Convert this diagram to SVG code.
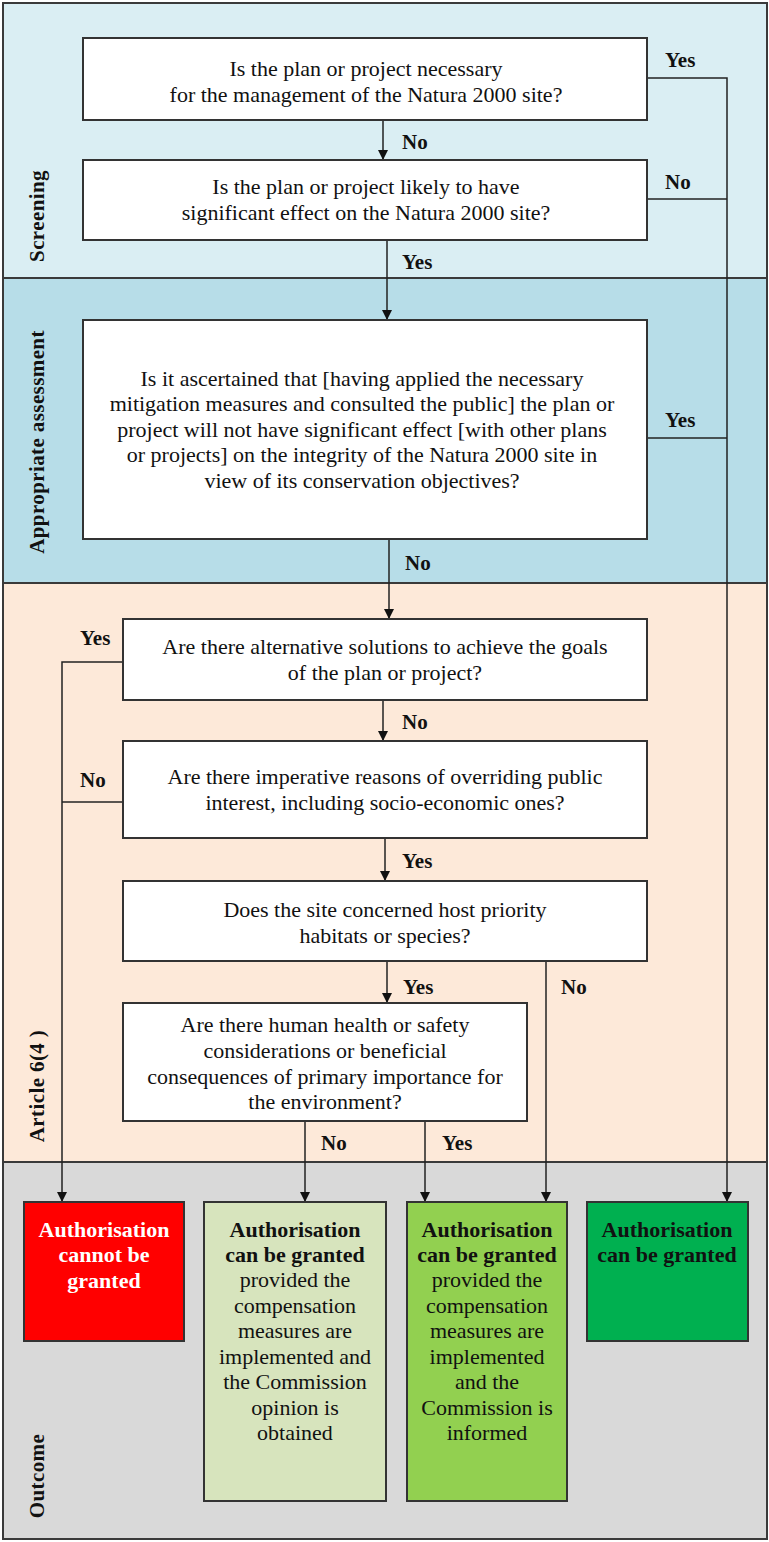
<svg xmlns="http://www.w3.org/2000/svg" width="769" height="1542" viewBox="0 0 769 1542">
<style>
.band{stroke:#3a3a3a;stroke-width:2}
.box{fill:#fff;stroke:#333;stroke-width:2}
.q{font-family:"Liberation Serif","Times New Roman",serif;font-size:22px;fill:#111;text-anchor:middle}
.lbl{font-family:"Liberation Serif","Times New Roman",serif;font-size:21px;font-weight:bold;fill:#111}
.side{font-family:"Liberation Serif","Times New Roman",serif;font-size:21px;font-weight:bold;fill:#111;text-anchor:middle;letter-spacing:0.4px}
.out{font-family:"Liberation Serif","Times New Roman",serif;font-size:22px;fill:#111;text-anchor:middle}
.b{font-weight:bold}
.conn{fill:none;stroke:#222;stroke-width:1.5}
</style>
<defs>
<marker id="arr" viewBox="0 0 10 10" refX="10" refY="5" markerWidth="10" markerHeight="10" markerUnits="userSpaceOnUse" orient="auto">
<path d="M0,0 L10,5 L0,10 Z" fill="#111"/>
</marker>
</defs>

<g id="bands">
<rect class="band" x="3" y="3" width="764" height="275" fill="#DAEEF3"/>
<rect class="band" x="3" y="278" width="764" height="305" fill="#B7DDE8"/>
<rect class="band" x="3" y="583" width="764" height="579" fill="#FDE9D9"/>
<rect class="band" x="3" y="1162" width="764" height="377" fill="#D9D9D9"/>
<text class="side" transform="translate(44,216) rotate(-90)">Screening</text>
<text class="side" transform="translate(44,442) rotate(-90)">Appropriate assessment</text>
<text class="side" transform="translate(44,1086) rotate(-90)">Article 6(4 )</text>
<text class="side" transform="translate(44,1476) rotate(-90)">Outcome</text>
</g>

<g id="connectors">
<path class="conn" d="M383,120 V160" marker-end="url(#arr)"/>
<path class="conn" d="M647,78 H727 V1202" marker-end="url(#arr)"/>
<path class="conn" d="M647,199 H727"/>
<path class="conn" d="M387,240 V320" marker-end="url(#arr)"/>
<path class="conn" d="M647,438 H727"/>
<path class="conn" d="M389,539 V619" marker-end="url(#arr)"/>
<path class="conn" d="M123,662 H62 V1202" marker-end="url(#arr)"/>
<path class="conn" d="M383,700 V741" marker-end="url(#arr)"/>
<path class="conn" d="M123,802 H62"/>
<path class="conn" d="M385,838 V881" marker-end="url(#arr)"/>
<path class="conn" d="M387,961 V1003" marker-end="url(#arr)"/>
<path class="conn" d="M546,961 V1202" marker-end="url(#arr)"/>
<path class="conn" d="M305,1121 V1202" marker-end="url(#arr)"/>
<path class="conn" d="M425,1121 V1202" marker-end="url(#arr)"/>
<text class="lbl" x="665" y="67">Yes</text>
<text class="lbl" x="402" y="149">No</text>
<text class="lbl" x="665" y="189">No</text>
<text class="lbl" x="402" y="269">Yes</text>
<text class="lbl" x="665" y="427">Yes</text>
<text class="lbl" x="405" y="570">No</text>
<text class="lbl" x="80" y="645">Yes</text>
<text class="lbl" x="402" y="729">No</text>
<text class="lbl" x="80" y="787">No</text>
<text class="lbl" x="402" y="868">Yes</text>
<text class="lbl" x="403" y="994">Yes</text>
<text class="lbl" x="561" y="994">No</text>
<text class="lbl" x="321" y="1150">No</text>
<text class="lbl" x="442" y="1150">Yes</text>
</g>

<g id="q1">
<rect class="box" x="83" y="38" width="564" height="82"/>
<text class="q" x="366" y="76">Is the plan or project necessary</text>
<text class="q" x="366" y="102">for the management of the Natura 2000 site?</text>
</g>
<g id="q2">
<rect class="box" x="83" y="160" width="564" height="80"/>
<text class="q" x="366" y="194">Is the plan or project likely to have</text>
<text class="q" x="366" y="220">significant effect on the Natura 2000 site?</text>
</g>
<g id="q3">
<rect class="box" x="83" y="320" width="564" height="219"/>
<text class="q" x="362" y="386">Is it ascertained that [having applied the necessary</text>
<text class="q" x="362" y="411">mitigation measures and consulted the public] the plan or</text>
<text class="q" x="362" y="437">project will not have significant effect [with other plans</text>
<text class="q" x="362" y="462">or projects] on the integrity of the Natura 2000 site in</text>
<text class="q" x="362" y="488">view of its conservation objectives?</text>
</g>
<g id="q4">
<rect class="box" x="123" y="619" width="524" height="81"/>
<text class="q" x="385" y="654">Are there alternative solutions to achieve the goals</text>
<text class="q" x="385" y="680">of the plan or project?</text>
</g>
<g id="q5">
<rect class="box" x="123" y="741" width="524" height="97"/>
<text class="q" x="385" y="784">Are there imperative reasons of overriding public</text>
<text class="q" x="385" y="810">interest, including socio-economic ones?</text>
</g>
<g id="q6">
<rect class="box" x="123" y="881" width="524" height="80"/>
<text class="q" x="385" y="917">Does the site concerned host priority</text>
<text class="q" x="385" y="943">habitats or species?</text>
</g>
<g id="q7">
<rect class="box" x="123" y="1003" width="404" height="118"/>
<text class="q" x="325" y="1032">Are there human health or safety</text>
<text class="q" x="325" y="1058">considerations or beneficial</text>
<text class="q" x="325" y="1084">consequences of primary importance for</text>
<text class="q" x="325" y="1109">the environment?</text>
</g>

<g id="o1">
<rect class="box" x="24" y="1202" width="160" height="139" style="fill:#FF0000"/>
<text class="out b" x="104" y="1237" style="fill:#fff">Authorisation</text>
<text class="out b" x="104" y="1262" style="fill:#fff">cannot be</text>
<text class="out b" x="104" y="1288" style="fill:#fff">granted</text>
</g>
<g id="o2">
<rect class="box" x="204" y="1202" width="182" height="299" style="fill:#D7E4BD"/>
<text class="out b" x="295" y="1237">Authorisation</text>
<text class="out b" x="295" y="1262">can be granted</text>
<text class="out" x="295" y="1287">provided the</text>
<text class="out" x="295" y="1313">compensation</text>
<text class="out" x="295" y="1338">measures are</text>
<text class="out" x="295" y="1364">implemented and</text>
<text class="out" x="295" y="1389">the Commission</text>
<text class="out" x="295" y="1415">opinion is</text>
<text class="out" x="295" y="1440">obtained</text>
</g>
<g id="o3">
<rect class="box" x="407" y="1202" width="160" height="299" style="fill:#92D050"/>
<text class="out b" x="487" y="1237">Authorisation</text>
<text class="out b" x="487" y="1262">can be granted</text>
<text class="out" x="487" y="1287">provided the</text>
<text class="out" x="487" y="1313">compensation</text>
<text class="out" x="487" y="1338">measures are</text>
<text class="out" x="487" y="1364">implemented</text>
<text class="out" x="487" y="1389">and the</text>
<text class="out" x="487" y="1415">Commission is</text>
<text class="out" x="487" y="1440">informed</text>
</g>
<g id="o4">
<rect class="box" x="587" y="1202" width="161" height="139" style="fill:#00B050"/>
<text class="out b" x="667" y="1237">Authorisation</text>
<text class="out b" x="667" y="1262">can be granted</text>
</g>
</svg>
